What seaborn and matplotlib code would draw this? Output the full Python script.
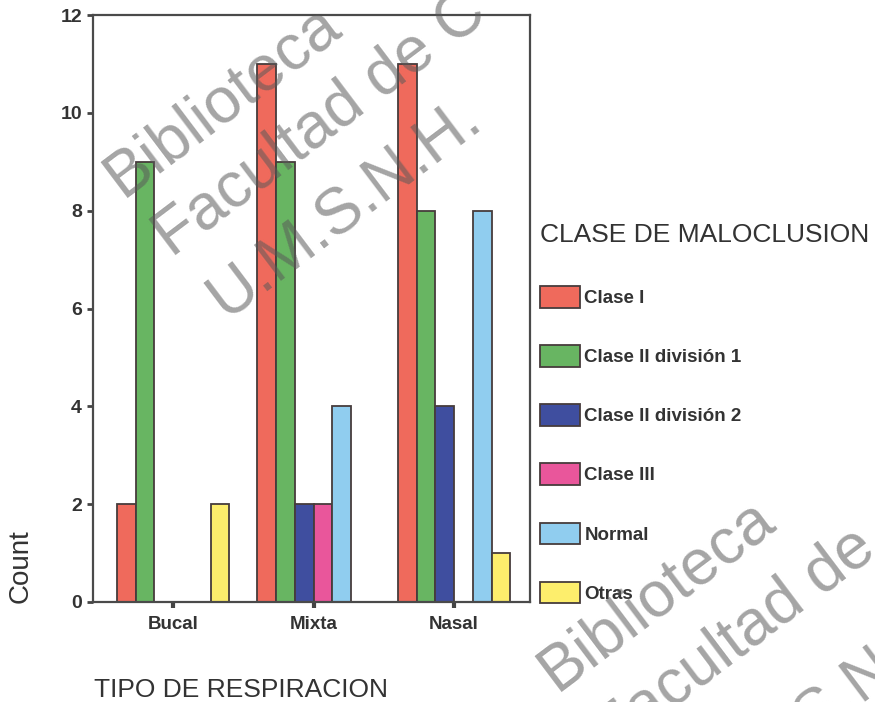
import matplotlib
matplotlib.use("Agg")
import matplotlib.pyplot as plt
import seaborn as sns
import pandas as pd

# Breathing type categories and malocclusion classes
tipos = ["Bucal", "Mixta", "Nasal"]
clases = ["Clase I", "Clase II división 1", "Clase II división 2",
          "Clase III", "Normal", "Otras"]

# Counts per class, ordered by breathing type (Bucal, Mixta, Nasal)
clase_i = [2, 11, 11]
clase_ii_div1 = [9, 9, 8]
clase_ii_div2 = [0, 2, 4]
clase_iii = [0, 2, 0]
normal = [0, 4, 8]
otras = [2, 0, 1]

yticks = [0, 2, 4, 6, 8, 10, 12]

colores = ["#EF6A5C", "#68B562", "#3F4E9F", "#E9569B", "#90CDEF", "#FDEE6C"]

series = [clase_i, clase_ii_div1, clase_ii_div2, clase_iii, normal, otras]
rows = []
for clase, vals in zip(clases, series):
    for tipo, v in zip(tipos, vals):
        rows.append({"TIPO DE RESPIRACION": tipo, "Count": v,
                     "CLASE DE MALOCLUSION": clase})
df = pd.DataFrame(rows)

sns.set_style("white")
plt.rcParams["font.family"] = ["Liberation Sans", "DejaVu Sans"]

W, H = 875, 702
fig = plt.figure(figsize=(W / 100, H / 100), dpi=100)
ax = fig.add_axes([93 / W, 1 - 602 / H, (530 - 93) / W, (602 - 15) / H])

edge = "#463c3c"
sns.barplot(data=df, x="TIPO DE RESPIRACION", y="Count",
            hue="CLASE DE MALOCLUSION", order=tipos, hue_order=clases,
            palette=dict(zip(clases, colores)), edgecolor=edge,
            linewidth=1.3, width=0.8, errorbar=None, saturation=1, ax=ax)

ax.set_ylim(0, 12)
ax.set_xlim(-0.57, 2.54)
ax.set_yticks(yticks)
ax.set_yticklabels([str(t) for t in yticks], fontsize=14, fontweight="bold",
                   color="#333333")
ax.set_xticks(range(len(tipos)))
ax.set_xticklabels(tipos, fontsize=13.5, fontweight="bold", color="#333333")
ax.tick_params(axis="y", direction="out", length=4, width=2, color="#444444",
               pad=4, left=True)
ax.tick_params(axis="x", direction="out", length=4, width=3, color="#444444",
               pad=6, bottom=True)

for side in ["left", "right", "top", "bottom"]:
    ax.spines[side].set_visible(True)
    ax.spines[side].set_color("#4a4a4a")
    ax.spines[side].set_linewidth(1.6)

ax.set_ylabel("Count", fontsize=20, color="#333333", labelpad=0)
ax.yaxis.set_label_coords(-0.137, 0.061)
ax.set_xlabel("TIPO DE RESPIRACION", fontsize=19, color="#333333")
ax.xaxis.set_label_coords(0.339, -0.13)

# Legend to the right of the plot area
handles, labels = ax.get_legend_handles_labels()
ax.legend_.remove()
leg = fig.legend(handles, labels, title="CLASE DE MALOCLUSION",
                 loc="upper left", bbox_to_anchor=(540 / W, 1 - 223 / H),
                 frameon=False, fontsize=13.5, title_fontsize=19,
                 handlelength=2.15, handleheight=1.4, labelspacing=2.0,
                 handletextpad=0.22, borderpad=0, borderaxespad=0,
                 alignment="left")
leg.get_title().set_color("#333333")
for t in leg.get_texts():
    t.set_fontweight("bold")
    t.set_color("#333333")
leg._legend_box.sep = 28

# Library watermark stamped across the page
wm = dict(fontsize=46, color="#5a5a5a", alpha=0.55, rotation=37,
          rotation_mode="anchor", ha="left", va="baseline", zorder=10)
fig.text(122 / W, 1 - 198 / H, "Biblioteca", **wm)
fig.text(172 / W, 1 - 258 / H, "Facultad de C", **wm)
fig.text(226 / W, 1 - 320 / H, "U.M.S.N.H.", **wm)
fig.text(556 / W, 1 - 692 / H, "Biblioteca", **wm)
fig.text(612 / W, 1 - 755 / H, "Facultad de", **wm)
fig.text(705 / W, 1 - 820 / H, "U.M.S.N.H.", **wm)

fig.savefig("out.png", dpi=100, facecolor="white")
